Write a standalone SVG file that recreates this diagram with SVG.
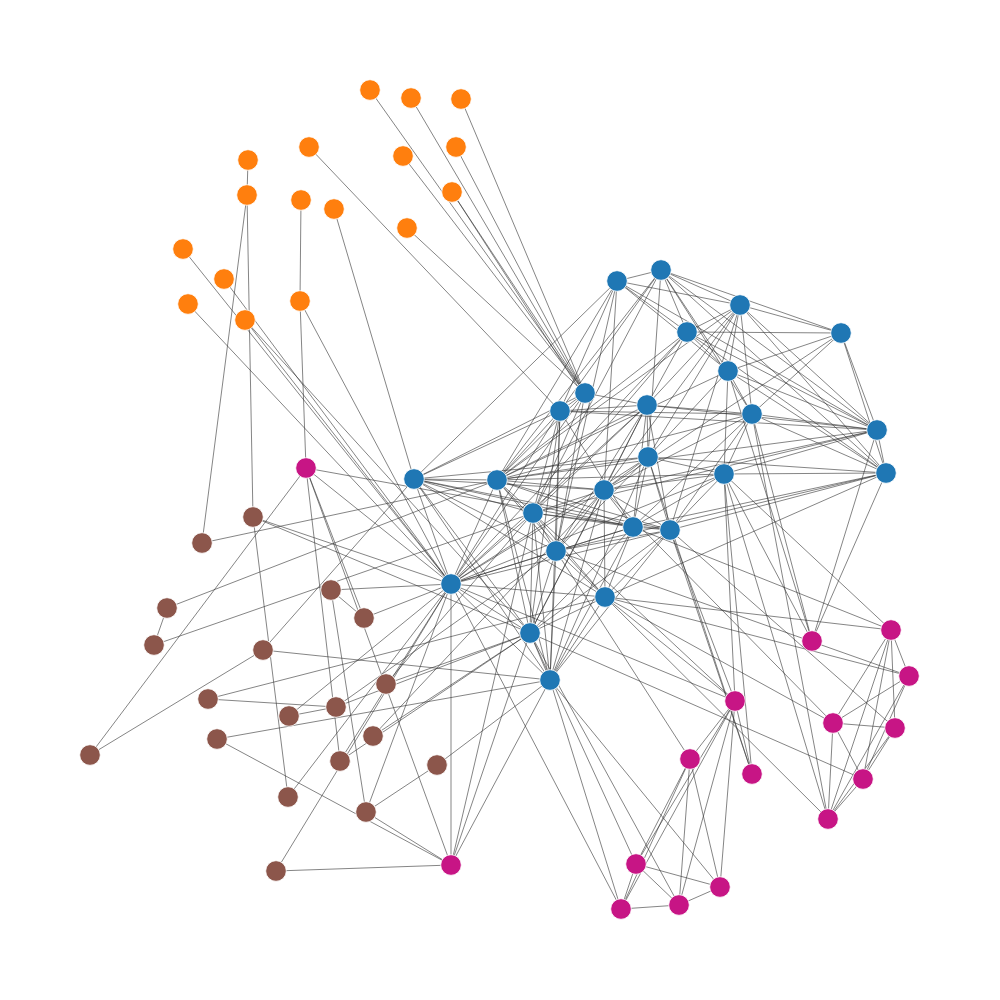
<svg xmlns="http://www.w3.org/2000/svg" width="1000" height="1000" viewBox="0 0 1000 1000">
<style>
.e line{stroke:#333;stroke-width:0.8;stroke-opacity:0.75}
.n circle{r:10.3;stroke:#fff;stroke-width:0.8}
.o circle{fill:#ff7f0e}
.b circle{fill:#1f77b4}
.m circle{fill:#c71585}
.r circle{fill:#8c564b}
</style>
<rect width="1000" height="1000" fill="#fff"/>
<g id="edges" class="e">
<line x1="370" y1="90" x2="585" y2="393"/>
<line x1="411" y1="98" x2="585" y2="393"/>
<line x1="461" y1="99" x2="585" y2="393"/>
<line x1="403" y1="156" x2="585" y2="393"/>
<line x1="456" y1="147" x2="585" y2="393"/>
<line x1="452" y1="192" x2="585" y2="393"/>
<line x1="452" y1="192" x2="580" y2="390"/>
<line x1="407" y1="228" x2="585" y2="393"/>
<line x1="309" y1="147" x2="560" y2="411"/>
<line x1="248" y1="160" x2="247" y2="195"/>
<line x1="247" y1="195" x2="253" y2="517"/>
<line x1="247" y1="195" x2="202" y2="543"/>
<line x1="301" y1="200" x2="300" y2="301"/>
<line x1="300" y1="301" x2="306" y2="468"/>
<line x1="300" y1="301" x2="451" y2="584"/>
<line x1="334" y1="209" x2="414" y2="479"/>
<line x1="183" y1="249" x2="451" y2="584"/>
<line x1="224" y1="279" x2="451" y2="584"/>
<line x1="188" y1="304" x2="451" y2="584"/>
<line x1="245" y1="320" x2="451" y2="584"/>
<line x1="245" y1="320" x2="530" y2="633"/>

<line x1="617" y1="281" x2="661" y2="270"/>
<line x1="617" y1="281" x2="740" y2="305"/>
<line x1="617" y1="281" x2="687" y2="332"/>
<line x1="617" y1="281" x2="728" y2="371"/>
<line x1="617" y1="281" x2="560" y2="411"/>
<line x1="617" y1="281" x2="497" y2="480"/>
<line x1="617" y1="281" x2="604" y2="490"/>
<line x1="617" y1="281" x2="414" y2="479"/>
<line x1="617" y1="281" x2="556" y2="551"/>
<line x1="617" y1="281" x2="877" y2="430"/>
<line x1="661" y1="270" x2="740" y2="305"/>
<line x1="661" y1="270" x2="687" y2="332"/>
<line x1="661" y1="270" x2="728" y2="371"/>
<line x1="661" y1="270" x2="752" y2="414"/>
<line x1="661" y1="270" x2="841" y2="333"/>
<line x1="661" y1="270" x2="877" y2="430"/>
<line x1="661" y1="270" x2="886" y2="473"/>
<line x1="661" y1="270" x2="497" y2="480"/>
<line x1="661" y1="270" x2="560" y2="411"/>
<line x1="661" y1="270" x2="648" y2="457"/>
<line x1="661" y1="270" x2="533" y2="513"/>
<line x1="740" y1="305" x2="687" y2="332"/>
<line x1="740" y1="305" x2="841" y2="333"/>
<line x1="740" y1="305" x2="728" y2="371"/>
<line x1="740" y1="305" x2="752" y2="414"/>
<line x1="740" y1="305" x2="877" y2="430"/>
<line x1="740" y1="305" x2="886" y2="473"/>
<line x1="740" y1="305" x2="647" y2="405"/>
<line x1="740" y1="305" x2="497" y2="480"/>
<line x1="740" y1="305" x2="604" y2="490"/>
<line x1="740" y1="305" x2="648" y2="457"/>
<line x1="740" y1="305" x2="670" y2="530"/>
<line x1="687" y1="332" x2="841" y2="333"/>
<line x1="687" y1="332" x2="728" y2="371"/>
<line x1="687" y1="332" x2="877" y2="430"/>
<line x1="687" y1="332" x2="886" y2="473"/>
<line x1="687" y1="332" x2="497" y2="480"/>
<line x1="687" y1="332" x2="647" y2="405"/>
<line x1="687" y1="332" x2="451" y2="584"/>
<line x1="687" y1="332" x2="533" y2="513"/>
<line x1="841" y1="333" x2="728" y2="371"/>
<line x1="841" y1="333" x2="752" y2="414"/>
<line x1="841" y1="333" x2="877" y2="430"/>
<line x1="841" y1="333" x2="886" y2="473"/>
<line x1="841" y1="333" x2="604" y2="490"/>
<line x1="728" y1="371" x2="752" y2="414"/>
<line x1="728" y1="371" x2="877" y2="430"/>
<line x1="728" y1="371" x2="886" y2="473"/>
<line x1="728" y1="371" x2="648" y2="457"/>
<line x1="728" y1="371" x2="724" y2="474"/>
<line x1="728" y1="371" x2="497" y2="480"/>
<line x1="728" y1="371" x2="812" y2="641"/>
<line x1="585" y1="393" x2="560" y2="411"/>
<line x1="585" y1="393" x2="497" y2="480"/>
<line x1="585" y1="393" x2="533" y2="513"/>
<line x1="585" y1="393" x2="556" y2="551"/>
<line x1="585" y1="393" x2="647" y2="405"/>
<line x1="585" y1="393" x2="414" y2="479"/>
<line x1="585" y1="393" x2="451" y2="584"/>
<line x1="560" y1="411" x2="647" y2="405"/>
<line x1="560" y1="411" x2="752" y2="414"/>
<line x1="560" y1="411" x2="877" y2="430"/>
<line x1="560" y1="411" x2="497" y2="480"/>
<line x1="560" y1="411" x2="533" y2="513"/>
<line x1="560" y1="411" x2="556" y2="551"/>
<line x1="560" y1="411" x2="530" y2="633"/>
<line x1="560" y1="411" x2="451" y2="584"/>
<line x1="560" y1="411" x2="414" y2="479"/>
<line x1="560" y1="411" x2="550" y2="680"/>
<line x1="560" y1="411" x2="633" y2="527"/>
<line x1="647" y1="405" x2="648" y2="457"/>
<line x1="647" y1="405" x2="497" y2="480"/>
<line x1="647" y1="405" x2="604" y2="490"/>
<line x1="647" y1="405" x2="533" y2="513"/>
<line x1="647" y1="405" x2="556" y2="551"/>
<line x1="647" y1="405" x2="633" y2="527"/>
<line x1="647" y1="405" x2="451" y2="584"/>
<line x1="647" y1="405" x2="877" y2="430"/>
<line x1="647" y1="405" x2="752" y2="414"/>
<line x1="647" y1="405" x2="670" y2="530"/>
<line x1="647" y1="405" x2="530" y2="633"/>
<line x1="752" y1="414" x2="877" y2="430"/>
<line x1="752" y1="414" x2="886" y2="473"/>
<line x1="752" y1="414" x2="724" y2="474"/>
<line x1="752" y1="414" x2="497" y2="480"/>
<line x1="752" y1="414" x2="604" y2="490"/>
<line x1="752" y1="414" x2="670" y2="530"/>
<line x1="752" y1="414" x2="633" y2="527"/>
<line x1="877" y1="430" x2="886" y2="473"/>
<line x1="877" y1="430" x2="497" y2="480"/>
<line x1="877" y1="430" x2="604" y2="490"/>
<line x1="877" y1="430" x2="724" y2="474"/>
<line x1="877" y1="430" x2="533" y2="513"/>
<line x1="886" y1="473" x2="724" y2="474"/>
<line x1="886" y1="473" x2="556" y2="551"/>
<line x1="886" y1="473" x2="670" y2="530"/>
<line x1="886" y1="473" x2="648" y2="457"/>
<line x1="886" y1="473" x2="633" y2="527"/>
<line x1="886" y1="473" x2="605" y2="597"/>
<line x1="648" y1="457" x2="604" y2="490"/>
<line x1="648" y1="457" x2="497" y2="480"/>
<line x1="648" y1="457" x2="556" y2="551"/>
<line x1="648" y1="457" x2="670" y2="530"/>
<line x1="648" y1="457" x2="451" y2="584"/>
<line x1="648" y1="457" x2="724" y2="474"/>
<line x1="648" y1="457" x2="633" y2="527"/>
<line x1="648" y1="457" x2="550" y2="680"/>
<line x1="724" y1="474" x2="604" y2="490"/>
<line x1="724" y1="474" x2="633" y2="527"/>
<line x1="724" y1="474" x2="670" y2="530"/>
<line x1="724" y1="474" x2="497" y2="480"/>
<line x1="724" y1="474" x2="451" y2="584"/>
<line x1="414" y1="479" x2="497" y2="480"/>
<line x1="414" y1="479" x2="451" y2="584"/>
<line x1="414" y1="479" x2="533" y2="513"/>
<line x1="414" y1="479" x2="556" y2="551"/>
<line x1="414" y1="479" x2="604" y2="490"/>
<line x1="414" y1="479" x2="633" y2="527"/>
<line x1="414" y1="479" x2="530" y2="633"/>
<line x1="414" y1="479" x2="550" y2="680"/>
<line x1="414" y1="479" x2="648" y2="457"/>
<line x1="414" y1="479" x2="670" y2="530"/>
<line x1="414" y1="479" x2="605" y2="597"/>
<line x1="497" y1="480" x2="604" y2="490"/>
<line x1="497" y1="480" x2="533" y2="513"/>
<line x1="497" y1="480" x2="556" y2="551"/>
<line x1="497" y1="480" x2="451" y2="584"/>
<line x1="497" y1="480" x2="530" y2="633"/>
<line x1="497" y1="480" x2="550" y2="680"/>
<line x1="497" y1="480" x2="605" y2="597"/>
<line x1="497" y1="480" x2="633" y2="527"/>
<line x1="497" y1="480" x2="670" y2="530"/>
<line x1="604" y1="490" x2="533" y2="513"/>
<line x1="604" y1="490" x2="633" y2="527"/>
<line x1="604" y1="490" x2="670" y2="530"/>
<line x1="604" y1="490" x2="556" y2="551"/>
<line x1="604" y1="490" x2="451" y2="584"/>
<line x1="604" y1="490" x2="605" y2="597"/>
<line x1="604" y1="490" x2="530" y2="633"/>
<line x1="604" y1="490" x2="550" y2="680"/>
<line x1="533" y1="513" x2="633" y2="527"/>
<line x1="533" y1="513" x2="670" y2="530"/>
<line x1="533" y1="513" x2="556" y2="551"/>
<line x1="533" y1="513" x2="451" y2="584"/>
<line x1="533" y1="513" x2="530" y2="633"/>
<line x1="533" y1="513" x2="550" y2="680"/>
<line x1="533" y1="513" x2="605" y2="597"/>
<line x1="633" y1="527" x2="670" y2="530"/>
<line x1="633" y1="527" x2="556" y2="551"/>
<line x1="633" y1="527" x2="451" y2="584"/>
<line x1="633" y1="527" x2="605" y2="597"/>
<line x1="633" y1="527" x2="530" y2="633"/>
<line x1="633" y1="527" x2="550" y2="680"/>
<line x1="670" y1="530" x2="556" y2="551"/>
<line x1="670" y1="530" x2="451" y2="584"/>
<line x1="670" y1="530" x2="605" y2="597"/>
<line x1="670" y1="530" x2="530" y2="633"/>
<line x1="670" y1="530" x2="550" y2="680"/>
<line x1="556" y1="551" x2="451" y2="584"/>
<line x1="556" y1="551" x2="605" y2="597"/>
<line x1="556" y1="551" x2="530" y2="633"/>
<line x1="556" y1="551" x2="550" y2="680"/>
<line x1="451" y1="584" x2="605" y2="597"/>
<line x1="451" y1="584" x2="530" y2="633"/>
<line x1="451" y1="584" x2="550" y2="680"/>
<line x1="605" y1="597" x2="530" y2="633"/>
<line x1="605" y1="597" x2="550" y2="680"/>
<line x1="530" y1="633" x2="550" y2="680"/>

<line x1="306" y1="468" x2="90" y2="755"/>
<line x1="90" y1="755" x2="263" y2="650"/>
<line x1="306" y1="468" x2="633" y2="527"/>
<line x1="306" y1="468" x2="451" y2="584"/>
<line x1="306" y1="468" x2="364" y2="618"/>
<line x1="306" y1="468" x2="451" y2="865"/>
<line x1="306" y1="468" x2="340" y2="761"/>
<line x1="253" y1="517" x2="288" y2="797"/>
<line x1="253" y1="517" x2="451" y2="584"/>
<line x1="253" y1="517" x2="530" y2="633"/>
<line x1="202" y1="543" x2="497" y2="480"/>
<line x1="167" y1="608" x2="154" y2="645"/>
<line x1="167" y1="608" x2="497" y2="480"/>
<line x1="154" y1="645" x2="533" y2="513"/>
<line x1="331" y1="590" x2="451" y2="584"/>
<line x1="331" y1="590" x2="364" y2="618"/>
<line x1="331" y1="590" x2="366" y2="812"/>
<line x1="364" y1="618" x2="451" y2="584"/>
<line x1="263" y1="650" x2="550" y2="680"/>
<line x1="263" y1="650" x2="414" y2="479"/>
<line x1="208" y1="699" x2="336" y2="707"/>
<line x1="208" y1="699" x2="605" y2="597"/>
<line x1="289" y1="716" x2="336" y2="707"/>
<line x1="289" y1="716" x2="451" y2="584"/>
<line x1="336" y1="707" x2="530" y2="633"/>
<line x1="336" y1="707" x2="556" y2="551"/>
<line x1="386" y1="684" x2="530" y2="633"/>
<line x1="386" y1="684" x2="533" y2="513"/>
<line x1="217" y1="739" x2="550" y2="680"/>
<line x1="217" y1="739" x2="451" y2="865"/>
<line x1="373" y1="736" x2="530" y2="633"/>
<line x1="373" y1="736" x2="604" y2="490"/>
<line x1="340" y1="761" x2="530" y2="633"/>
<line x1="340" y1="761" x2="451" y2="584"/>
<line x1="437" y1="765" x2="550" y2="680"/>
<line x1="437" y1="765" x2="366" y2="812"/>
<line x1="288" y1="797" x2="451" y2="584"/>
<line x1="366" y1="812" x2="451" y2="865"/>
<line x1="366" y1="812" x2="451" y2="584"/>
<line x1="276" y1="871" x2="451" y2="865"/>
<line x1="276" y1="871" x2="451" y2="584"/>
<line x1="451" y1="865" x2="451" y2="584"/>
<line x1="451" y1="865" x2="530" y2="633"/>
<line x1="451" y1="865" x2="533" y2="513"/>
<line x1="451" y1="865" x2="550" y2="680"/>

<line x1="735" y1="701" x2="690" y2="759"/>
<line x1="735" y1="701" x2="752" y2="774"/>
<line x1="735" y1="701" x2="636" y2="864"/>
<line x1="735" y1="701" x2="621" y2="909"/>
<line x1="735" y1="701" x2="679" y2="905"/>
<line x1="735" y1="701" x2="720" y2="887"/>
<line x1="690" y1="759" x2="636" y2="864"/>
<line x1="690" y1="759" x2="621" y2="909"/>
<line x1="690" y1="759" x2="720" y2="887"/>
<line x1="690" y1="759" x2="679" y2="905"/>
<line x1="636" y1="864" x2="679" y2="905"/>
<line x1="636" y1="864" x2="621" y2="909"/>
<line x1="636" y1="864" x2="720" y2="887"/>
<line x1="679" y1="905" x2="621" y2="909"/>
<line x1="679" y1="905" x2="720" y2="887"/>
<line x1="891" y1="630" x2="833" y2="723"/>
<line x1="891" y1="630" x2="895" y2="728"/>
<line x1="891" y1="630" x2="863" y2="779"/>
<line x1="891" y1="630" x2="828" y2="819"/>
<line x1="891" y1="630" x2="909" y2="676"/>
<line x1="909" y1="676" x2="833" y2="723"/>
<line x1="909" y1="676" x2="863" y2="779"/>
<line x1="909" y1="676" x2="828" y2="819"/>
<line x1="833" y1="723" x2="895" y2="728"/>
<line x1="833" y1="723" x2="863" y2="779"/>
<line x1="833" y1="723" x2="828" y2="819"/>
<line x1="895" y1="728" x2="863" y2="779"/>
<line x1="895" y1="728" x2="828" y2="819"/>
<line x1="863" y1="779" x2="828" y2="819"/>

<line x1="451" y1="584" x2="621" y2="909"/>
<line x1="530" y1="633" x2="679" y2="905"/>
<line x1="550" y1="680" x2="720" y2="887"/>
<line x1="530" y1="633" x2="636" y2="864"/>
<line x1="550" y1="680" x2="621" y2="909"/>
<line x1="605" y1="597" x2="735" y2="701"/>
<line x1="451" y1="584" x2="735" y2="701"/>
<line x1="533" y1="513" x2="735" y2="701"/>
<line x1="670" y1="530" x2="735" y2="701"/>
<line x1="724" y1="474" x2="735" y2="701"/>
<line x1="724" y1="474" x2="752" y2="774"/>
<line x1="648" y1="457" x2="752" y2="774"/>
<line x1="670" y1="530" x2="752" y2="774"/>
<line x1="556" y1="551" x2="690" y2="759"/>
<line x1="605" y1="597" x2="891" y2="630"/>
<line x1="605" y1="597" x2="909" y2="676"/>
<line x1="556" y1="551" x2="909" y2="676"/>
<line x1="670" y1="530" x2="895" y2="728"/>
<line x1="530" y1="633" x2="863" y2="779"/>
<line x1="605" y1="597" x2="828" y2="819"/>
<line x1="605" y1="597" x2="833" y2="723"/>
<line x1="724" y1="474" x2="828" y2="819"/>
<line x1="752" y1="414" x2="828" y2="819"/>
<line x1="724" y1="474" x2="812" y2="641"/>
<line x1="724" y1="474" x2="891" y2="630"/>
<line x1="752" y1="414" x2="812" y2="641"/>
<line x1="886" y1="473" x2="812" y2="641"/>
<line x1="877" y1="430" x2="812" y2="641"/>
<line x1="633" y1="527" x2="891" y2="630"/>
<line x1="604" y1="490" x2="833" y2="723"/>
</g>
<g id="node-O1" class="n o"><circle cx="370" cy="90"/></g>
<g id="node-O2" class="n o"><circle cx="411" cy="98"/></g>
<g id="node-O3" class="n o"><circle cx="461" cy="99"/></g>
<g id="node-O4" class="n o"><circle cx="309" cy="147"/></g>
<g id="node-O5" class="n o"><circle cx="248" cy="160"/></g>
<g id="node-O6" class="n o"><circle cx="403" cy="156"/></g>
<g id="node-O7" class="n o"><circle cx="456" cy="147"/></g>
<g id="node-O8" class="n o"><circle cx="452" cy="192"/></g>
<g id="node-O9" class="n o"><circle cx="247" cy="195"/></g>
<g id="node-O10" class="n o"><circle cx="301" cy="200"/></g>
<g id="node-O11" class="n o"><circle cx="334" cy="209"/></g>
<g id="node-O12" class="n o"><circle cx="407" cy="228"/></g>
<g id="node-O13" class="n o"><circle cx="183" cy="249"/></g>
<g id="node-O14" class="n o"><circle cx="224" cy="279"/></g>
<g id="node-O15" class="n o"><circle cx="188" cy="304"/></g>
<g id="node-O16" class="n o"><circle cx="245" cy="320"/></g>
<g id="node-O17" class="n o"><circle cx="300" cy="301"/></g>
<g id="node-B1" class="n b"><circle cx="617" cy="281"/></g>
<g id="node-B2" class="n b"><circle cx="661" cy="270"/></g>
<g id="node-B3" class="n b"><circle cx="740" cy="305"/></g>
<g id="node-B4" class="n b"><circle cx="687" cy="332"/></g>
<g id="node-B5" class="n b"><circle cx="841" cy="333"/></g>
<g id="node-B6" class="n b"><circle cx="728" cy="371"/></g>
<g id="node-B7" class="n b"><circle cx="585" cy="393"/></g>
<g id="node-B8" class="n b"><circle cx="560" cy="411"/></g>
<g id="node-B9" class="n b"><circle cx="647" cy="405"/></g>
<g id="node-B10" class="n b"><circle cx="752" cy="414"/></g>
<g id="node-B11" class="n b"><circle cx="877" cy="430"/></g>
<g id="node-B12" class="n b"><circle cx="886" cy="473"/></g>
<g id="node-B13" class="n b"><circle cx="648" cy="457"/></g>
<g id="node-B14" class="n b"><circle cx="724" cy="474"/></g>
<g id="node-B15" class="n b"><circle cx="414" cy="479"/></g>
<g id="node-B16" class="n b"><circle cx="497" cy="480"/></g>
<g id="node-B17" class="n b"><circle cx="604" cy="490"/></g>
<g id="node-B18" class="n b"><circle cx="533" cy="513"/></g>
<g id="node-B19" class="n b"><circle cx="633" cy="527"/></g>
<g id="node-B20" class="n b"><circle cx="670" cy="530"/></g>
<g id="node-B21" class="n b"><circle cx="556" cy="551"/></g>
<g id="node-B22" class="n b"><circle cx="451" cy="584"/></g>
<g id="node-B23" class="n b"><circle cx="605" cy="597"/></g>
<g id="node-B24" class="n b"><circle cx="530" cy="633"/></g>
<g id="node-B25" class="n b"><circle cx="550" cy="680"/></g>
<g id="node-M1" class="n m"><circle cx="306" cy="468"/></g>
<g id="node-M2" class="n m"><circle cx="812" cy="641"/></g>
<g id="node-M3" class="n m"><circle cx="891" cy="630"/></g>
<g id="node-M4" class="n m"><circle cx="909" cy="676"/></g>
<g id="node-M5" class="n m"><circle cx="833" cy="723"/></g>
<g id="node-M6" class="n m"><circle cx="895" cy="728"/></g>
<g id="node-M7" class="n m"><circle cx="735" cy="701"/></g>
<g id="node-M8" class="n m"><circle cx="690" cy="759"/></g>
<g id="node-M9" class="n m"><circle cx="752" cy="774"/></g>
<g id="node-M10" class="n m"><circle cx="863" cy="779"/></g>
<g id="node-M11" class="n m"><circle cx="828" cy="819"/></g>
<g id="node-M12" class="n m"><circle cx="636" cy="864"/></g>
<g id="node-M13" class="n m"><circle cx="720" cy="887"/></g>
<g id="node-M14" class="n m"><circle cx="679" cy="905"/></g>
<g id="node-M15" class="n m"><circle cx="621" cy="909"/></g>
<g id="node-M16" class="n m"><circle cx="451" cy="865"/></g>
<g id="node-R1" class="n r"><circle cx="253" cy="517"/></g>
<g id="node-R2" class="n r"><circle cx="202" cy="543"/></g>
<g id="node-R3" class="n r"><circle cx="167" cy="608"/></g>
<g id="node-R4" class="n r"><circle cx="154" cy="645"/></g>
<g id="node-R5" class="n r"><circle cx="331" cy="590"/></g>
<g id="node-R6" class="n r"><circle cx="364" cy="618"/></g>
<g id="node-R7" class="n r"><circle cx="263" cy="650"/></g>
<g id="node-R8" class="n r"><circle cx="208" cy="699"/></g>
<g id="node-R9" class="n r"><circle cx="386" cy="684"/></g>
<g id="node-R10" class="n r"><circle cx="289" cy="716"/></g>
<g id="node-R11" class="n r"><circle cx="336" cy="707"/></g>
<g id="node-R12" class="n r"><circle cx="217" cy="739"/></g>
<g id="node-R13" class="n r"><circle cx="90" cy="755"/></g>
<g id="node-R14" class="n r"><circle cx="373" cy="736"/></g>
<g id="node-R15" class="n r"><circle cx="340" cy="761"/></g>
<g id="node-R16" class="n r"><circle cx="437" cy="765"/></g>
<g id="node-R17" class="n r"><circle cx="288" cy="797"/></g>
<g id="node-R18" class="n r"><circle cx="366" cy="812"/></g>
<g id="node-R19" class="n r"><circle cx="276" cy="871"/></g>
</svg>
